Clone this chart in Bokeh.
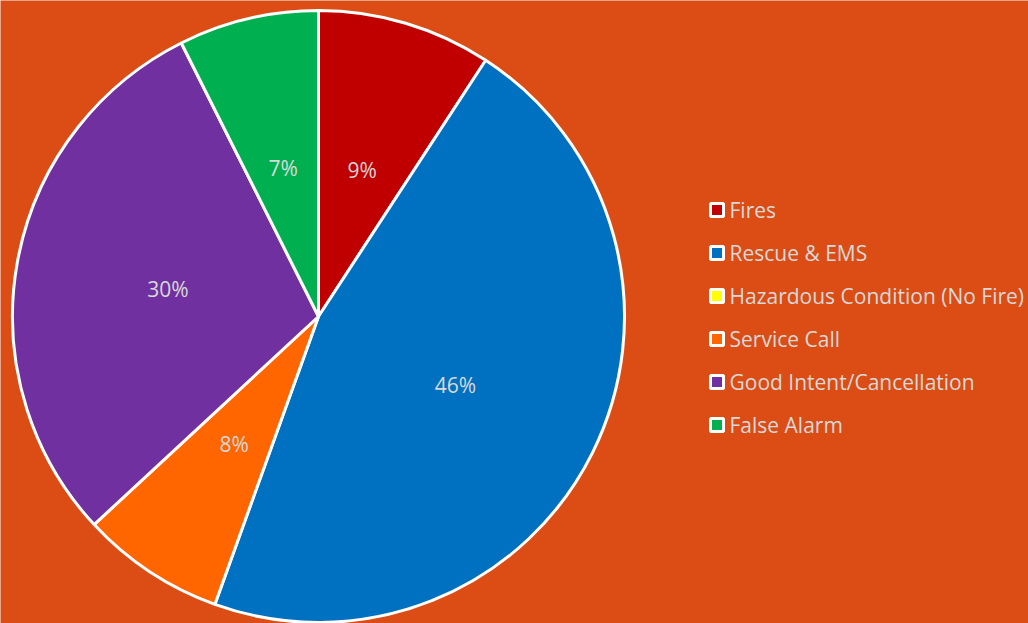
import math
from bokeh.plotting import figure
from bokeh.models import Range1d, ColumnDataSource
from bokeh.core.properties import value
from bokeh.embed import file_html
from bokeh.resources import INLINE

categories = ["Fires", "Rescue & EMS", "Hazardous Condition (No Fire)", "Service Call",
              "Good Intent/Cancellation", "False Alarm"]
shares = [9.2, 46.3, 0.0, 7.6, 29.5, 7.4]
colors = ["#C00000", "#0070C0", "#FFFF00", "#FF6600", "#7030A0", "#00B050"]

BG = "#DB4D14"
TXT = "#D9D9D9"
FONT = "Open Sans"

W, H = 1028, 623
p = figure(width=W, height=H, output_backend="svg", toolbar_location=None,
           x_range=Range1d(0, W), y_range=Range1d(0, H), min_border=0,
           background_fill_color=BG, border_fill_color=BG, outline_line_color=None)
p.axis.visible = False
p.grid.visible = False

cx, cy, R = 318, H - 316, 306
total = sum(shares)
starts, ends, lx, ly, labels, wcol = [], [], [], [], [], []
cum = 0.0
for s, c in zip(shares, colors):
    a0 = math.pi / 2 - 2 * math.pi * cum / total
    cum += s
    a1 = math.pi / 2 - 2 * math.pi * cum / total
    if s <= 0:
        continue
    starts.append(a0)
    ends.append(a1)
    wcol.append(c)
    mid = (a0 + a1) / 2
    lx.append(cx + 0.5 * R * math.cos(mid))
    ly.append(cy + 0.5 * R * math.sin(mid))
    labels.append(f"{round(s / total * 100)}%")

src = ColumnDataSource(dict(start=starts, end=ends, color=wcol, lx=lx, ly=ly, label=labels))
p.wedge(x=cx, y=cy, radius=R, start_angle="start", end_angle="end", direction="clock",
        fill_color="color", line_color="white", line_width=3, source=src)
p.text(x="lx", y="ly", text="label", source=src, text_align="center", text_baseline="middle",
       text_color=TXT, text_font=value(FONT), text_font_size="21px")

leg_x, leg_top, step = 716.5, H - 209.5, 43
ys = [leg_top - i * step for i in range(len(categories))]
lsrc = ColumnDataSource(dict(x=[leg_x] * len(categories), y=ys, color=colors, name=categories,
                             tx=[729] * len(categories)))
p.scatter(x="x", y="y", marker="square", size=13, fill_color="color", line_color="white",
          line_width=3, source=lsrc)
p.text(x="tx", y="y", text="name", source=lsrc, text_align="left", text_baseline="middle",
       text_color=TXT, text_font=value(FONT), text_font_size="21px")

open("out.html", "w").write(file_html(p, INLINE))
